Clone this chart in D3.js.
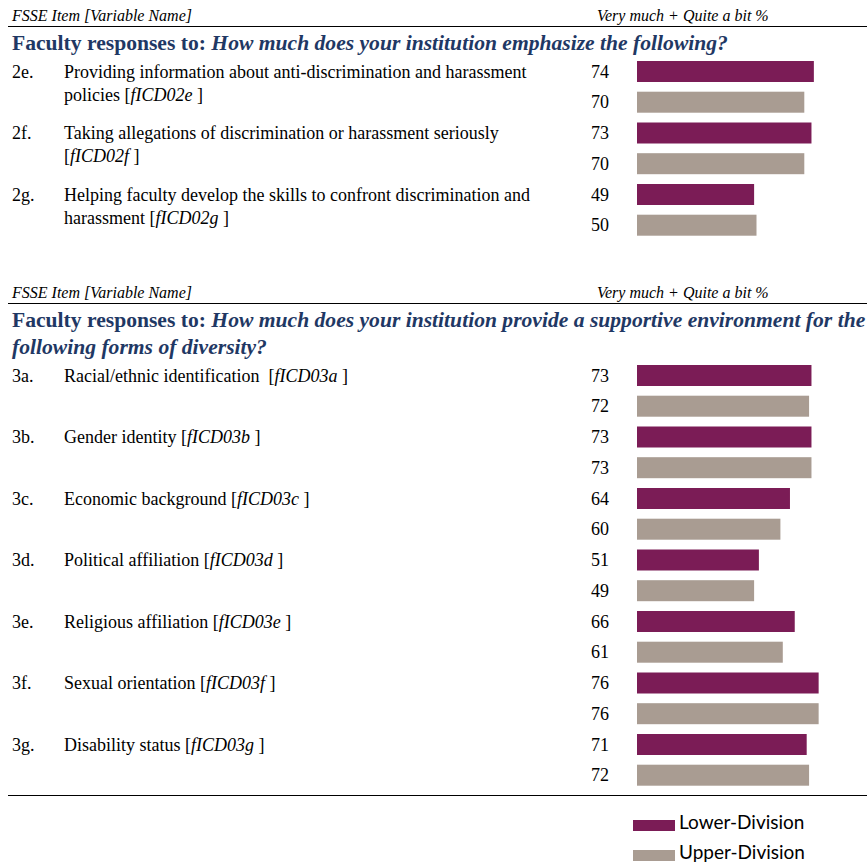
<!DOCTYPE html>
<html>
<head>
<meta charset="utf-8">
<script src="https://cdn.jsdelivr.net/npm/d3@7"></script>
<style>
  body { margin: 0; background: #fff; }
  text { white-space: pre; }
</style>
</head>
<body>
<div id="chart"></div>
<script>
var w = 867
var h = 864

var colors = [ "#7b1c56", "#a99c92" ];   // lower, upper
var seriesNames = [ "Lower-Division", "Upper-Division" ];

// section 1
var title1 = [ "How much does your institution emphasize the following?" ];
var codes1 = [ "2e.", "2f.", "2g." ];
var lines1 = [
  [ "Providing information about anti-discrimination and harassment", "policies [" ],
  [ "Taking allegations of discrimination or harassment seriously", "[" ],
  [ "Helping faculty develop the skills to confront discrimination and", "harassment [" ]
];
var vars1 = [ "fICD02e", "fICD02f", "fICD02g" ];
var lower1 = [ 74, 73, 49 ];
var upper1 = [ 70, 70, 50 ];

// section 2
var title2 = [ "How much does your institution provide a supportive environment for the", "following forms of diversity?" ];
var codes2 = [ "3a.", "3b.", "3c.", "3d.", "3e.", "3f.", "3g." ];
var lines2 = [
  [ "Racial/ethnic identification  [" ],
  [ "Gender identity [" ],
  [ "Economic background [" ],
  [ "Political affiliation [" ],
  [ "Religious affiliation [" ],
  [ "Sexual orientation [" ],
  [ "Disability status [" ]
];
var vars2 = [ "fICD03a", "fICD03b", "fICD03c", "fICD03d", "fICD03e", "fICD03f", "fICD03g" ];
var lower2 = [ 73, 73, 64, 51, 66, 76, 71 ];
var upper2 = [ 72, 73, 60, 49, 61, 76, 72 ];

var serif = "'Liberation Serif', 'Times New Roman', serif";
var navy = "#1f3864";

var x = d3.scaleLinear().domain([0, 100]).range([637, 876]);

var svg = d3.select("#chart").append("svg")
    .attr("width", w)
    .attr("height", h);

function section(top, titleLines, codes, lines, vars, lower, upper) {
  var g = svg.append("g");

  g.append("text")
    .attr("x", 12).attr("y", top)
    .style("font-family", serif).style("font-style", "italic").style("font-size", "16px")
    .text("FSSE Item [Variable Name]");
  g.append("text")
    .attr("x", 597).attr("y", top)
    .style("font-family", serif).style("font-style", "italic").style("font-size", "16px")
    .text("Very much + Quite a bit %");
  g.append("line")
    .attr("x1", 8).attr("x2", w).attr("y1", top + 5.5).attr("y2", top + 5.5)
    .attr("stroke", "#000").attr("stroke-width", 1.2);

  titleLines.forEach(function(t, i) {
    var tt = g.append("text")
      .attr("x", 12).attr("y", top + 29 + i * 27)
      .style("font-family", serif).style("font-weight", "bold").style("font-size", "21.6px")
      .style("fill", navy);
    if (i == 0) tt.append("tspan").text("Faculty responses to: ");
    tt.append("tspan").style("font-style", "italic").text(t);
  });

  var firstBar = top + 40 + (titleLines.length - 1) * 27;
  var y = d3.scaleLinear().domain([0, 1]).range([firstBar, firstBar + 61.5]);
  var barH = 21;
  var gap = 30.7;

  var item = g.selectAll(".item").data(codes).enter()
    .append("g").attr("class", "item");

  item.append("text")
    .attr("x", 12)
    .attr("y", function(d, i) { return y(i) + barH / 2 + 6; })
    .style("font-family", serif).style("font-size", "18px")
    .text(function(d) { return d; });

  item.each(function(d, i) {
    var el = d3.select(this);
    lines[i].forEach(function(ln, j) {
      var t = el.append("text")
        .attr("x", 64)
        .attr("y", y(i) + barH / 2 + 6 + j * 23)
        .style("font-family", serif).style("font-size", "18px");
      t.append("tspan").text(ln);
      if (j == lines[i].length - 1) {
        t.append("tspan").style("font-style", "italic").text(vars[i]);
        t.append("tspan").text(" ]");
      }
    });
  });

  [lower, upper].forEach(function(vals, s) {
    g.selectAll(".bar" + s).data(vals).enter()
      .append("rect")
        .attr("class", "bar" + s)
        .attr("x", x(0))
        .attr("y", function(d, i) { return y(i) + s * gap; })
        .attr("width", function(d) { return x(d) - x(0); })
        .attr("height", barH)
        .attr("fill", colors[s]);
    g.selectAll(".val" + s).data(vals).enter()
      .append("text")
        .attr("class", "val" + s)
        .attr("x", 591)
        .attr("y", function(d, i) { return y(i) + s * gap + barH / 2 + 6; })
        .style("font-family", serif).style("font-size", "18px")
        .text(function(d) { return d; });
  });
}

section(21, title1, codes1, lines1, vars1, lower1, upper1);
section(298, title2, codes2, lines2, vars2, lower2, upper2);

svg.append("line")
  .attr("x1", 8).attr("x2", w).attr("y1", 795.5).attr("y2", 795.5)
  .attr("stroke", "#000").attr("stroke-width", 1.2);

// legend
var legend = svg.selectAll(".legend").data(seriesNames).enter()
  .append("g").attr("class", "legend")
  .attr("transform", function(d, i) { return "translate(633," + (820 + i * 30) + ")"; });
legend.append("rect")
  .attr("width", 42).attr("height", 11)
  .attr("fill", function(d, i) { return colors[i]; });
legend.append("text")
  .attr("x", 46).attr("y", 9)
  .style("font-family", "Lato, 'Open Sans', sans-serif").style("font-size", "19px")
  .text(function(d) { return d; });
</script>
</body>
</html>
